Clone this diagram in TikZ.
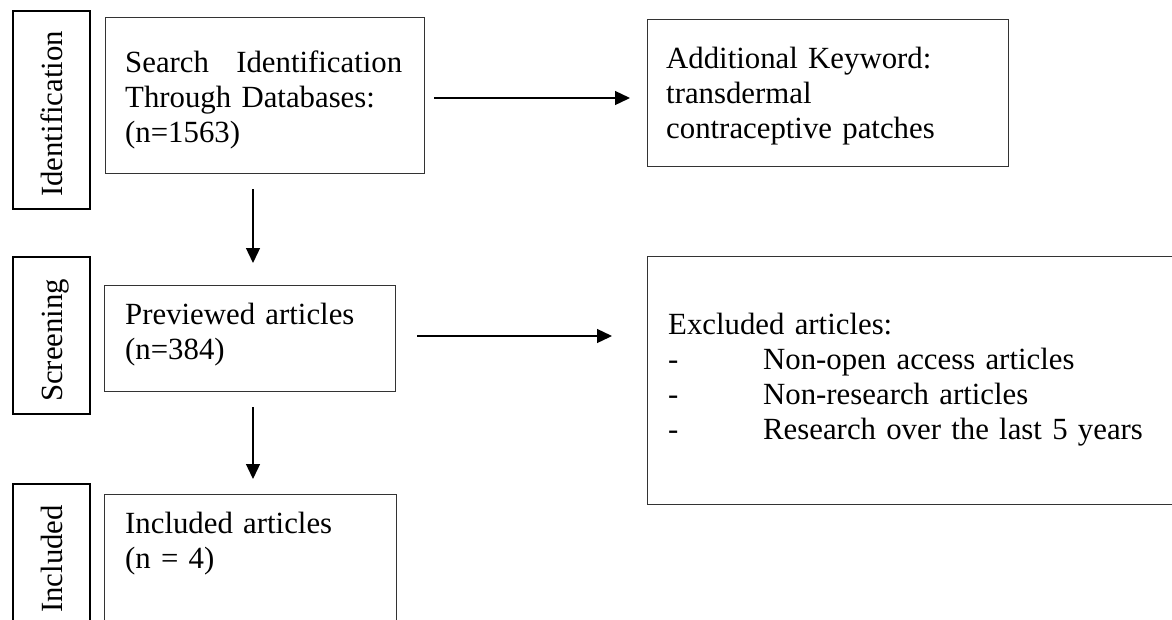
\documentclass[tikz,border=0pt]{standalone}
\usepackage{fontspec}
\setmainfont{Liberation Serif}
\usetikzlibrary{arrows.meta,calc}
\begin{document}
\begin{tikzpicture}[x=1pt,y=-1pt,
  box/.style={draw=black!80, line width=1.4pt, inner sep=0pt, anchor=north west},
  lab/.style={draw=black, line width=1.7pt, inner sep=0pt, anchor=north west},
  txt/.style={font=\fontsize{30.8pt}{35pt}\selectfont, inner sep=0pt, anchor=base west, align=left, text width=#1},
  rot/.style={font=\fontsize{30.8pt}{35pt}\selectfont, inner sep=0pt, anchor=base west, rotate=90},
  arr/.style={line width=1.3pt, -{Triangle[length=15pt,width=14pt]}}
]
\useasboundingbox (0,0) rectangle (1172,619);

% stage labels
\node[lab, minimum width=77pt, minimum height=198pt] (identbox) at (12,10) {};
\node[rot] (identtxt) at (62,197) {Identification};
\node[lab, minimum width=77pt, minimum height=157pt] (screenbox) at (12,256) {};
\node[rot] (screentxt) at (62,402) {Screening};
\node[lab, minimum width=77pt, minimum height=157pt] (inclbox) at (12,483) {};
\node[rot] (incltxt) at (62,613) {Included};

% main boxes
\node[box, minimum width=319pt, minimum height=156pt] (search) at (105,17) {};
\node[txt=277pt] (searchtxt) at (125,72) {Search\hfill Identification\\Through Databases:\\(n=1563)};

\node[box, minimum width=361pt, minimum height=147pt] (kw) at (647,19) {};
\node[txt=330pt] (kwtxt) at (666,68) {Additional Keyword:\\transdermal\\contraceptive patches};

\node[box, minimum width=291pt, minimum height=106pt] (prev) at (104,285) {};
\node[txt=260pt] (prevtxt) at (125,324) {Previewed articles\\(n=384)};

\node[box, minimum width=540pt, minimum height=248pt] (excl) at (647,256) {};
\node[txt=500pt] (excltxt) at (668,334) {Excluded articles:\\
\makebox[95pt][l]{-}Non-open access articles\\
\makebox[95pt][l]{-}Non-research articles\\
\makebox[95pt][l]{-}Research over the last 5 years};

\node[box, minimum width=292pt, minimum height=150pt] (incl) at (104,494) {};
\node[txt=260pt] (incltxt2) at (125,533) {Included articles\\(n = 4)};

% connectors
\coordinate (c1) at (253,0);
\coordinate (r1) at (0,98);
\coordinate (r2) at (0,336);
\draw[arr] ([yshift=-15pt]search.south -| c1) -- ([yshift=22pt]prev.north -| c1);
\draw[arr] ([yshift=-15pt]prev.south -| c1) -- ([yshift=15pt]incl.north -| c1);
\draw[arr] ([xshift=9pt]search.east |- r1) -- ([xshift=-17pt]kw.west |- r1);
\draw[arr] ([xshift=21pt]prev.east |- r2) -- ([xshift=-35pt]excl.west |- r2);
\end{tikzpicture}
\end{document}
